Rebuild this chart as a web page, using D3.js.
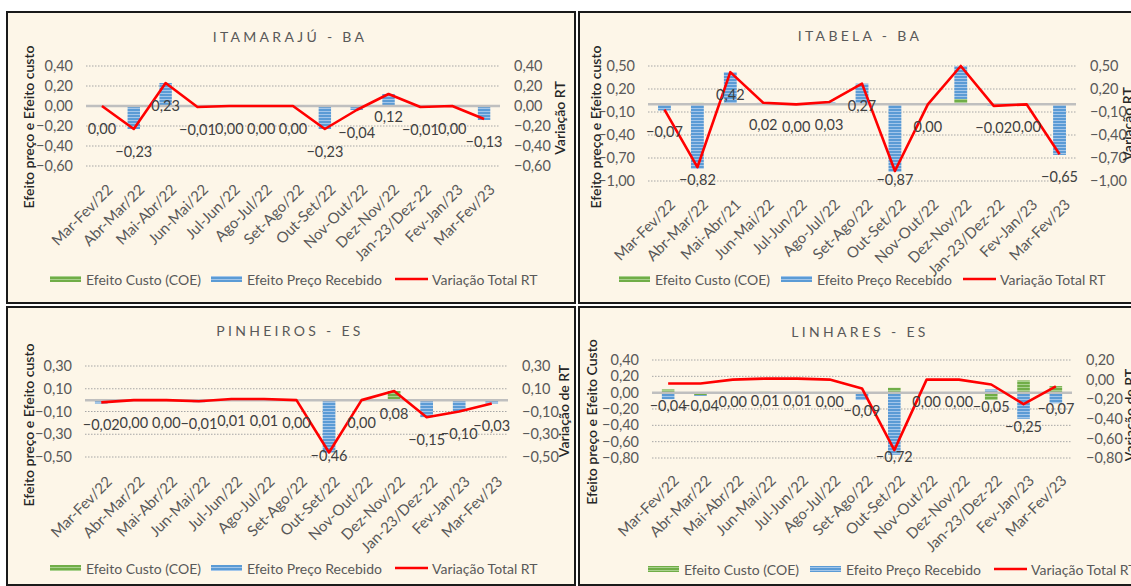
<!DOCTYPE html>
<html>
<head>
<meta charset="utf-8">
<script src="https://cdn.jsdelivr.net/npm/d3@7"></script>
<style>
  body { margin: 0; background: #fff; }
  svg text { font-family: Lato, "Open Sans", sans-serif; }
</style>
</head>
<body>
<div id="chart"></div>
<script>
// categories
var cats = ["Mar-Fev/22", "Abr-Mar/22", "Mai-Abr/22", "Jun-Mai/22", "Jul-Jun/22", "Ago-Jul/22",
  "Set-Ago/22", "Out-Set/22", "Nov-Out/22", "Dez-Nov/22", "Jan-23/Dez-22", "Fev-Jan/23", "Mar-Fev/23"];
var catsItabela = ["Mar-Fev/22", "Abr-Mar/22", "Mai-Abr/21", "Jun-Mai/22", "Jul-Jun/22", "Ago-Jul/22",
  "Set-Ago/22", "Out-Set/22", "Nov-Out/22", "Dez-Nov/22", "Jan-23/Dez-22", "Fev-Jan/23", "Mar-Fev/23"];

// ITAMARAJÚ - BA
var itamarajuCusto = [0, 0, 0, 0, 0, 0, 0, 0, 0, 0, 0, 0, 0];
var itamarajuPreco = [0, -0.23, 0.23, -0.01, 0, 0, 0, -0.23, -0.04, 0.12, -0.01, 0, -0.14];
var itamarajuRT = [0, -0.23, 0.23, -0.01, 0, 0, 0, -0.23, -0.04, 0.12, -0.01, 0, -0.13];
var itamarajuTicks = [0.4, 0.2, 0, -0.2, -0.4, -0.6];

// ITABELA - BA
var itabelaCusto = [0, 0.02, 0, 0, 0, 0, 0, 0, 0, 0.07, 0, 0, 0];
var itabelaPreco = [-0.08, -0.84, 0.42, 0.02, 0, 0.03, 0.27, -0.88, 0, 0.43, -0.02, 0, -0.66];
var itabelaRT = [-0.07, -0.82, 0.42, 0.02, 0, 0.03, 0.27, -0.87, 0, 0.50, -0.02, 0, -0.65];
var itabelaNoLabel = ["Dez-Nov/22"];
var itabelaTicks = [0.5, 0.2, -0.1, -0.4, -0.7, -1.0];

// PINHEIROS - ES
var pinheirosCusto = [0.01, 0, 0, 0.01, 0, 0, 0, 0, 0, 0.08, 0, 0, 0];
var pinheirosPreco = [-0.03, 0, 0, -0.02, 0.01, 0.01, 0, -0.46, 0, 0, -0.15, -0.10, -0.03];
var pinheirosRT = [-0.02, 0, 0, -0.01, 0.01, 0.01, 0, -0.46, 0, 0.08, -0.15, -0.10, -0.03];
var pinheirosTicks = [0.3, 0.1, -0.1, -0.3, -0.5];

// LINHARES - ES
var linharesCusto = [0.04, -0.03, 0, 0.01, 0, 0, 0, 0.06, 0, 0, -0.09, 0.15, 0.08];
var linharesPreco = [-0.08, -0.01, 0, 0, 0.01, 0, -0.09, -0.76, 0, 0, 0.04, -0.32, -0.13];
var linharesRT = [-0.04, -0.04, 0, 0.01, 0.01, 0, -0.09, -0.72, 0, 0, -0.05, -0.25, -0.07];
var linharesLeftTicks = [0.4, 0.2, 0, -0.2, -0.4, -0.6, -0.8];
var linharesRightTicks = [0.2, 0, -0.2, -0.4, -0.6, -0.8];

var legendNames = ["Efeito Custo (COE)", "Efeito Preço Recebido", "Variação Total RT"];

var fmt = function(v) { return d3.format(".2f")(v).replace(".", ","); };

var svg = d3.select("#chart").append("svg")
  .attr("width", 1131)
  .attr("height", 586);

// striped fills like the excel bars
var defs = svg.append("defs");
function stripes(id, base, light) {
  var p = defs.append("pattern").attr("id", id)
    .attr("patternUnits", "userSpaceOnUse").attr("width", 6).attr("height", 3);
  p.append("rect").attr("width", 6).attr("height", 3).attr("fill", base);
  p.append("rect").attr("width", 6).attr("height", 1).attr("fill", light);
}
stripes("stGreen", "#70ad47", "#a9d18e");
stripes("stBlue", "#5b9bd5", "#a3c6ea");
var fills = { custo: "url(#stGreen)", preco: "url(#stBlue)" };

function drawPanel(p) {
  var g = svg.append("g");

  g.append("rect")
    .attr("x", p.box[0]).attr("y", p.box[1])
    .attr("width", p.box[2]).attr("height", p.box[3])
    .attr("fill", "#fdf6e8")
    .attr("stroke", "#1a1a1a")
    .attr("stroke-width", 2);

  var x = d3.scaleBand().domain(p.cats).range([p.left, p.right]);
  var yL = d3.scaleLinear().domain(d3.extent(p.leftTicks)).range([p.bottom, p.top]);
  var yR = d3.scaleLinear().domain(d3.extent(p.rightTicks)).range([p.bottom, p.top]);
  var bw = x.bandwidth() * 0.39;
  var cx = function(c) { return x(c) + x.bandwidth() / 2; };

  // title
  g.append("text")
    .attr("x", p.titleX).attr("y", p.titleY)
    .attr("text-anchor", "middle")
    .attr("dominant-baseline", "central")
    .attr("fill", "#595959")
    .attr("font-size", "14px")
    .attr("letter-spacing", "3.3px")
    .text(p.title);

  // dotted gridlines
  g.selectAll(".grid")
    .data(p.leftTicks.filter(function(t) { return t !== 0; }))
    .enter().append("line")
    .attr("x1", p.left).attr("x2", p.right)
    .attr("y1", function(d) { return yL(d); })
    .attr("y2", function(d) { return yL(d); })
    .attr("stroke", "#a6a6a6")
    .attr("stroke-width", 1)
    .attr("stroke-dasharray", "1.5,1.5");

  // left and right axes
  var leftAxis = g.append("g")
    .attr("transform", "translate(" + (p.left - 13) + ",0)")
    .call(d3.axisLeft(yL).tickValues(p.leftTicks).tickSize(0).tickPadding(0).tickFormat(fmt));
  var rightAxis = g.append("g")
    .attr("transform", "translate(" + (p.right + 14) + ",0)")
    .call(d3.axisRight(yR).tickValues(p.rightTicks).tickSize(0).tickPadding(0).tickFormat(fmt));
  [leftAxis, rightAxis].forEach(function(a) {
    a.select(".domain").remove();
    a.selectAll("text")
      .attr("fill", "#595959")
      .attr("font-size", "14.5px")
      .style("font-family", "Lato, sans-serif");
  });

  // stacked bars
  var rows = p.cats.map(function(c, i) { return { cat: c, custo: p.custo[i], preco: p.preco[i] }; });
  var stacked = d3.stack().keys(["custo", "preco"]).offset(d3.stackOffsetDiverging)(rows);
  g.selectAll(".serie")
    .data(stacked)
    .enter().append("g")
    .attr("fill", function(d) { return fills[d.key]; })
    .selectAll("rect")
    .data(function(d) { return d; })
    .enter().append("rect")
    .attr("x", function(d) { return cx(d.data.cat) - bw / 2; })
    .attr("width", bw)
    .attr("y", function(d) { return yL(Math.max(d[0], d[1])); })
    .attr("height", function(d) { return Math.abs(yL(d[0]) - yL(d[1])); });

  // category axis (zero line)
  g.append("line")
    .attr("x1", p.left).attr("x2", p.right)
    .attr("y1", yL(0)).attr("y2", yL(0))
    .attr("stroke", "#bfbfbf")
    .attr("stroke-width", 2.5);

  var xAxis = g.append("g")
    .attr("transform", "translate(0," + p.bottom + ")")
    .call(d3.axisBottom(x).tickSize(0));
  xAxis.select(".domain").remove();
  xAxis.selectAll("text")
    .attr("x", 0).attr("y", 0).attr("dy", "0.35em")
    .attr("transform", "translate(8," + (p.xLabelDy + 5) + ") rotate(-45)")
    .style("text-anchor", "end")
    .attr("fill", "#595959")
    .attr("font-size", "15px")
    .style("font-family", "Lato, sans-serif");

  // RT line
  var pts = p.cats.map(function(c, i) { return { cat: c, v: p.rt[i] }; });
  var line = d3.line()
    .x(function(d) { return cx(d.cat); })
    .y(function(d) { return yR(d.v); });
  g.append("path")
    .datum(pts)
    .attr("d", line)
    .attr("fill", "none")
    .attr("stroke", "#ff0000")
    .attr("stroke-width", 2.6)
    .attr("stroke-linejoin", "round");

  // data labels below the line points
  var hide = p.noLabel || [];
  g.selectAll(".lbl")
    .data(pts.filter(function(d) { return hide.indexOf(d.cat) < 0; }))
    .enter().append("text")
    .attr("x", function(d) { return cx(d.cat); })
    .attr("y", function(d) { return Math.min(yR(d.v) + 22, p.bottom - 2); })
    .attr("text-anchor", "middle")
    .attr("dominant-baseline", "central")
    .attr("fill", "#404040")
    .attr("font-size", "14.5px")
    .text(function(d) { return fmt(d.v); });

  // axis titles
  [p.leftTitle, p.rightTitle].forEach(function(t) {
    g.append("text")
      .attr("transform", "translate(" + t[1] + "," + t[2] + ") rotate(-90)")
      .attr("text-anchor", "middle")
      .attr("dominant-baseline", "central")
      .attr("fill", "#262626")
      .attr("font-size", "14px")
      .attr("font-weight", 600)
      .text(t[0]);
  });

  // legend
  var keys = ["custo", "preco", "rt"];
  keys.forEach(function(k, i) {
    var lx = p.legendX[i], ly = p.legendY;
    if (k === "rt") {
      g.append("line")
        .attr("x1", lx).attr("x2", lx + 33)
        .attr("y1", ly).attr("y2", ly)
        .attr("stroke", "#ff0000").attr("stroke-width", 2.6);
    } else {
      g.append("rect")
        .attr("x", lx).attr("y", ly - 3)
        .attr("width", 31).attr("height", 6)
        .attr("fill", fills[k]);
    }
    g.append("text")
      .attr("x", lx + (k === "rt" ? 37 : 36)).attr("y", ly)
      .attr("dominant-baseline", "central")
      .attr("fill", "#595959")
      .attr("font-size", "14px")
      .text(legendNames[i]);
  });
}

drawPanel({
  box: [7, 12, 568, 291],
  title: "ITAMARAJÚ - BA", titleX: 290, titleY: 36,
  cats: cats, custo: itamarajuCusto, preco: itamarajuPreco, rt: itamarajuRT,
  leftTicks: itamarajuTicks, rightTicks: itamarajuTicks,
  left: 86, right: 500, top: 66, bottom: 166, xLabelDy: 16,
  leftTitle: ["Efeito preço e Efeito custo", 28, 127],
  rightTitle: ["Variação RT", 559, 118],
  legendX: [50, 211, 395], legendY: 279
});

drawPanel({
  box: [579, 12, 570, 291],
  title: "ITABELA - BA", titleX: 860, titleY: 35,
  cats: catsItabela, custo: itabelaCusto, preco: itabelaPreco, rt: itabelaRT, noLabel: itabelaNoLabel,
  leftTicks: itabelaTicks, rightTicks: itabelaTicks,
  left: 648, right: 1076, top: 66, bottom: 181, xLabelDy: 16,
  leftTitle: ["Efeito preço e Efeito custo", 595, 127],
  rightTitle: ["Variação RT", 1127, 124],
  legendX: [619, 781, 963], legendY: 279
});

drawPanel({
  box: [7, 307, 568, 278],
  title: "PINHEIROS - ES", titleX: 290, titleY: 330,
  cats: cats, custo: pinheirosCusto, preco: pinheirosPreco, rt: pinheirosRT,
  leftTicks: pinheirosTicks, rightTicks: pinheirosTicks,
  left: 85, right: 508, top: 366, bottom: 457, xLabelDy: 17,
  leftTitle: ["Efeito preço e Efeito custo", 28, 425],
  rightTitle: ["Variação de RT", 563, 411],
  legendX: [50, 211, 395], legendY: 568
});

drawPanel({
  box: [579, 307, 570, 278],
  title: "LINHARES - ES", titleX: 860, titleY: 331,
  cats: cats, custo: linharesCusto, preco: linharesPreco, rt: linharesRT,
  leftTicks: linharesLeftTicks, rightTicks: linharesRightTicks,
  left: 652, right: 1072, top: 360, bottom: 458, xLabelDy: 15,
  leftTitle: ["Efeito preço e Efeito Custo", 591, 422],
  rightTitle: ["Variação de RT", 1129, 415],
  legendX: [648, 810, 994], legendY: 569
});
</script>
</body>
</html>
